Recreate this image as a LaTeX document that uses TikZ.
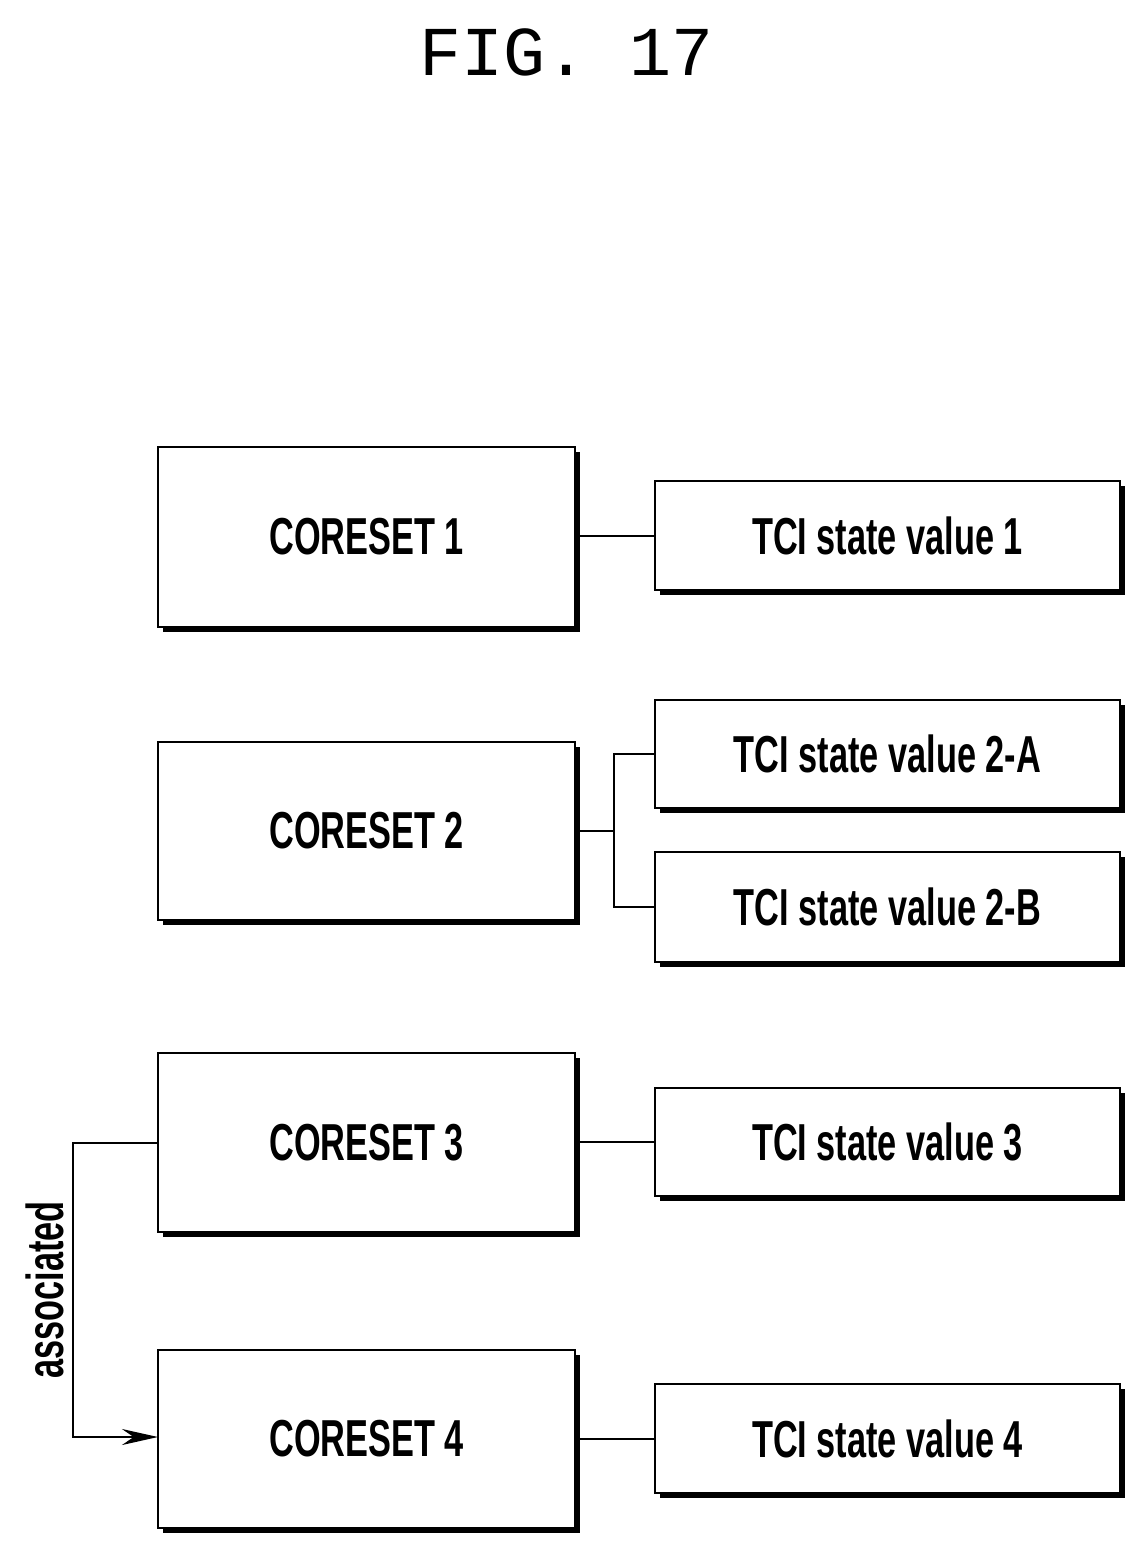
\documentclass[tikz,border=0pt]{standalone}
\usepackage{fontspec}
\setmainfont{Liberation Sans}
\newfontfamily\titlefont{Liberation Mono}
\usetikzlibrary{arrows.meta}
\begin{document}
\begin{tikzpicture}[x=1pt,y=-1pt,
  box/.style={draw,line width=2pt,fill=white},
  shad/.style={fill=black},
  lab/.style={font=\fontsize{52}{52}\selectfont\bfseries},
  ln/.style={line width=2pt}]
\useasboundingbox (0,0) rectangle (1148,1553);
\node[font=\titlefont\fontsize{70}{70}\selectfont] (title) at (567,52) {FIG. 17};
\newcommand\bx[6]{%
  \fill[shad] (#2+5,#3+5) rectangle (#4+5,#5+5);
  \draw[box] (#2,#3) rectangle (#4,#5);
  \node[lab] (#1) at ({(#2+#4)/2},{(#3+#5)/2}) {\scalebox{0.66}[1]{#6}};
  \coordinate (#1w) at (#2,{(#3+#5)/2});
  \coordinate (#1e) at (#4,{(#3+#5)/2});}
\bx{c1}{158}{447}{575}{627}{CORESET 1}
\bx{t1}{655}{481}{1120}{590}{TCI state value 1}
\bx{c2}{158}{742}{575}{920}{CORESET 2}
\bx{t2a}{655}{700}{1120}{808}{TCI state value 2-A}
\bx{t2b}{655}{852}{1120}{962}{TCI state value 2-B}
\bx{c3}{158}{1053}{575}{1232}{CORESET 3}
\bx{t3}{655}{1088}{1120}{1196}{TCI state value 3}
\bx{c4}{158}{1350}{575}{1528}{CORESET 4}
\bx{t4}{655}{1384}{1120}{1493}{TCI state value 4}
\draw[ln] (t1w) -- (t1w -| c1e);
\draw[ln] (t3w) -- (t3w -| c3e);
\draw[ln] (t4w) -- (t4w -| c4e);
\coordinate (jx) at (614,0);
\draw[ln] (c2e) -- (c2e -| jx);
\draw[ln] (t2aw) -- (t2aw -| jx) -- (t2bw -| jx) -- (t2bw);
\coordinate (ax) at (73,0);
\coordinate (a2) at (73,1437);
\draw[ln,-{Stealth[length=36pt,width=16pt]}] (c3w) -- (c3w -| ax) -- (a2) -- (a2 -| c4w);
\node[lab,rotate=90] (assoc) at (45,1290) {\scalebox{0.66}[1]{associated}};
\end{tikzpicture}
\end{document}
